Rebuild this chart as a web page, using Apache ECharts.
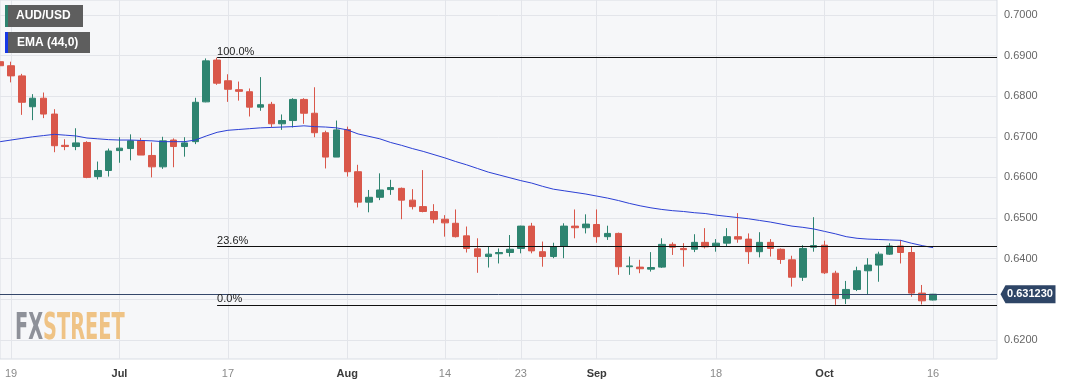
<!DOCTYPE html>
<html><head><meta charset="utf-8">
<script src="https://cdn.jsdelivr.net/npm/echarts@6/dist/echarts.min.js"></script>
<style>html,body{margin:0;padding:0;background:#fff}#c{width:1067px;height:386px}</style>
</head><body><div id="c"></div>
<script>
// Trading days (daily candles), 2023
const dates = ['06-16','06-19','06-20','06-21','06-22','06-23','06-26','06-27','06-28','06-29','06-30',
 '07-03','07-04','07-05','07-06','07-07','07-10','07-11','07-12','07-13','07-14','07-17','07-18','07-19','07-20','07-21',
 '07-24','07-25','07-26','07-27','07-28','07-31','08-01','08-02','08-03','08-04','08-07','08-08','08-09','08-10','08-11',
 '08-14','08-15','08-16','08-17','08-18','08-21','08-22','08-23','08-24','08-25','08-28','08-29','08-30','08-31',
 '09-01','09-04','09-05','09-06','09-07','09-08','09-11','09-12','09-13','09-14','09-15','09-18','09-19','09-20','09-21','09-22',
 '09-25','09-26','09-27','09-28','09-29','10-02','10-03','10-04','10-05','10-06','10-09','10-10','10-11','10-12','10-13','10-16'];
const opens = [0.6885,0.6875,0.6850,0.6774,0.6795,0.6756,0.6679,0.6676,0.6686,0.6602,0.6617,
 0.6666,0.6671,0.6690,0.6654,0.6626,0.6692,0.6676,0.6688,0.6786,0.6889,0.6838,0.6816,0.6811,0.6773,0.6780,
 0.6732,0.6740,0.6792,0.6758,0.6710,0.6650,0.6718,0.6614,0.6539,0.6551,0.6570,0.6573,0.6544,0.6528,0.6516,
 0.6497,0.6487,0.6456,0.6424,0.6405,0.6412,0.6415,0.6425,0.6480,0.6417,0.6405,0.6431,0.6480,0.6476,
 0.6484,0.6454,0.6462,0.6380,0.6379,0.6374,0.6379,0.6435,0.6425,0.6423,0.6440,0.6431,0.6438,0.6454,0.6448,0.6417,
 0.6440,0.6423,0.6397,0.6354,0.6428,0.6433,0.6364,0.6302,0.6324,0.6370,0.6384,0.6411,0.6431,0.6415,0.6315,0.6298];
const closes = [0.6875,0.6850,0.6785,0.6795,0.6756,0.6678,0.6676,0.6685,0.6600,0.6617,0.6665,
 0.6672,0.6690,0.6655,0.6626,0.6690,0.6676,0.6685,0.6785,0.6887,0.6832,0.6817,0.6812,0.6773,0.6779,0.6732,
 0.6740,0.6792,0.6758,0.6710,0.6650,0.6717,0.6614,0.6539,0.6551,0.6569,0.6575,0.6544,0.6528,0.6516,0.6497,
 0.6488,0.6454,0.6425,0.6405,0.6411,0.6415,0.6423,0.6480,0.6419,0.6405,0.6429,0.6480,0.6476,0.6485,
 0.6454,0.6462,0.6380,0.6382,0.6375,0.6378,0.6435,0.6428,0.6422,0.6440,0.6429,0.6438,0.6454,0.6448,0.6417,0.6440,
 0.6425,0.6398,0.6354,0.6425,0.6432,0.6365,0.6302,0.6324,0.6370,0.6384,0.6411,0.6431,0.6415,0.6315,0.6296,0.63123];
const lows = [0.6870,0.6834,0.6754,0.6741,0.6746,0.6662,0.6667,0.6667,0.6598,0.6595,0.6602,
 0.6636,0.6642,0.6655,0.6600,0.6621,0.6625,0.6651,0.6682,0.6785,0.6828,0.6786,0.6789,0.6750,0.6764,0.6723,
 0.6717,0.6723,0.6732,0.6699,0.6622,0.6650,0.6602,0.6526,0.6514,0.6544,0.6557,0.6497,0.6521,0.6514,0.6487,
 0.6454,0.6452,0.6415,0.6365,0.6378,0.6388,0.6405,0.6413,0.6413,0.6380,0.6401,0.6401,0.6450,0.6462,
 0.6439,0.6446,0.6360,0.6360,0.6364,0.6368,0.6377,0.6409,0.6380,0.6416,0.6425,0.6417,0.6429,0.6439,0.6387,0.6403,
 0.6405,0.6387,0.6331,0.6345,0.6417,0.6362,0.6286,0.6288,0.6320,0.6312,0.6343,0.6409,0.6388,0.6306,0.6287,0.6297];
const highs = [0.6893,0.6885,0.6855,0.6805,0.6809,0.6768,0.6694,0.6721,0.6689,0.6639,0.6671,
 0.6699,0.6706,0.6697,0.6686,0.6700,0.6696,0.6699,0.6796,0.6893,0.6895,0.6854,0.6836,0.6819,0.6847,0.6786,
 0.6755,0.6795,0.6795,0.6822,0.6715,0.6740,0.6725,0.6631,0.6569,0.6610,0.6594,0.6575,0.6571,0.6618,0.6534,
 0.6507,0.6521,0.6479,0.6450,0.6429,0.6425,0.6458,0.6481,0.6488,0.6442,0.6439,0.6487,0.6521,0.6509,
 0.6521,0.6481,0.6464,0.6405,0.6397,0.6416,0.6450,0.6440,0.6438,0.6460,0.6475,0.6448,0.6475,0.6512,0.6462,0.6465,
 0.6448,0.6425,0.6407,0.6433,0.6502,0.6444,0.6370,0.6345,0.6380,0.6401,0.6417,0.6438,0.6446,0.6429,0.6335,0.6313];
const ema44 = [0.6688,0.6692,0.6696,0.6700,0.6703,0.6706,0.6704,0.6702,0.6697,0.6695,0.6693,
 0.6692,0.6692,0.6691,0.6690,0.6688,0.6688,0.6688,0.6692,0.6702,0.6711,0.6716,0.6718,0.6720,0.6722,0.6723,
 0.6724,0.6725,0.6727,0.6725,0.6724,0.6722,0.6717,0.6707,0.6701,0.6695,0.6686,0.6679,0.6671,0.6664,0.6656,
 0.6648,0.6639,0.6631,0.6622,0.6613,0.6606,0.6599,0.6592,0.6586,0.6578,0.6571,0.6567,0.6563,0.6559,
 0.6554,0.6549,0.6543,0.6536,0.6530,0.6525,0.6521,0.6518,0.6516,0.6513,0.6511,0.6507,0.6504,0.6501,0.6498,0.6494,
 0.6490,0.6485,0.6480,0.6477,0.6473,0.6467,0.6461,0.6454,0.6450,0.6448,0.6447,0.6446,0.6445,0.6438,0.6432,0.6427];
const tickIndex = [1, 11, 21, 32, 41, 48, 55, 66, 76, 86];
const tickText  = ['19','Jul','17','Aug','14','23','Sep','18','Oct','16'];
const monthTicks = ['Jul','Aug','Sep','Oct'];
const priceTicks = [0.62,0.63,0.64,0.65,0.66,0.67,0.68,0.69,0.70];
const fibLevels = [{label:'100.0%', value:0.6895},{label:'23.6%', value:0.6431},{label:'0.0%', value:0.6286}];
const fibStartIndex = 20;
const lastPrice = 0.63123;
const lastPriceText = '0.631230';

const X_MIN = -0.014, X_MAX = 91.9;
const Y_MIN = 0.61527, Y_MAX = 0.70369;
const UP = '#2e8470', DOWN = '#d9574a';
const FONT = 'Liberation Sans, Arial, sans-serif';

const candleData = dates.map((d,i)=>[i, opens[i], closes[i], lows[i], highs[i]]);
const emaData = ema44.map((v,i)=>[i, v]);

const chart = echarts.init(document.getElementById('c'), null, {renderer:'canvas'});
chart.setOption({
  animation:false,
  backgroundColor:'#ffffff',
  grid:{left:0, right:70, top:0, bottom:27, show:true, backgroundColor:'#f6f7f9', borderColor:'#d9dde4', borderWidth:1},
  xAxis:{type:'value', min:X_MIN, max:X_MAX,
    axisLine:{show:false},
    axisTick:{show:false, customValues:tickIndex},
    axisLabel:{customValues:tickIndex, margin:9, fontFamily:FONT, fontSize:11,
      formatter:(v)=>{const t=tickText[tickIndex.indexOf(Math.round(v))]||''; return monthTicks.includes(t)?'{m|'+t+'}':'{d|'+t+'}';},
      rich:{m:{color:'#3a3a3a', fontWeight:'bold', fontSize:11, fontFamily:FONT}, d:{color:'#8a8a8a', fontSize:11, fontFamily:FONT}}},
    splitLine:{show:true, lineStyle:{color:'#e3e5ea', width:1}}},
  yAxis:{type:'value', position:'right', min:Y_MIN, max:Y_MAX, scale:true,
    axisLine:{show:false}, axisTick:{show:false, customValues:priceTicks},
    axisLabel:{customValues:priceTicks, margin:7, color:'#666', fontSize:11, fontFamily:FONT,
      formatter:(v)=>v.toFixed(4)},
    splitLine:{show:true, lineStyle:{color:'#e3e5ea', width:1}}},
  series:[
    {type:'candlestick', data:candleData, encode:{x:0, y:[1,2,3,4]}, barWidth:7, clip:true,
      itemStyle:{color:UP, color0:DOWN, borderColor:UP, borderColor0:DOWN, borderWidth:1},
      markLine:{silent:true, symbol:['none','none'], animation:false, precision:6,
        data:[
          ...fibLevels.map(f=>[
            {coord:[fibStartIndex, f.value], lineStyle:{color:'#111', width:1, type:'solid'},
             label:{show:true, formatter:f.label, position:'insideStartTop', distance:0, color:'#222', fontSize:11, fontFamily:FONT}},
            {coord:[X_MAX, f.value]}]),
          {yAxis:lastPrice, lineStyle:{color:'#34476a', width:1, type:'solid'}, label:{show:false}}
        ]},
      markPoint:{silent:true, animation:false,
        data:[{coord:[X_MAX, lastPrice], symbol:'path://M0,9L5,0L55,0L55,18L5,18Z', symbolSize:[55,18], symbolKeepAspect:false,
          symbolOffset:[31,0], itemStyle:{color:'#2e4566'},
          label:{show:true, position:'inside', formatter:lastPriceText, color:'#fff', fontWeight:'bold', fontSize:11, offset:[2,0], fontFamily:FONT}}]}
    },
    {type:'line', data:emaData, showSymbol:false, symbol:'none', lineStyle:{color:'#2b3fd4', width:1}, clip:true, z:3}
  ],
  graphic:[
    {type:'rect', left:5, top:5, shape:{width:78, height:22}, style:{fill:'#5e5e5e'}, z:10},
    {type:'rect', left:5, top:5, shape:{width:3, height:22}, style:{fill:UP}, z:11},
    {type:'text', left:16, top:10, style:{text:'AUD/USD', fill:'#fff', font:'bold 12px '+FONT}, z:11},
    {type:'rect', left:5, top:32, shape:{width:85, height:21}, style:{fill:'#5e5e5e'}, z:10},
    {type:'rect', left:5, top:32, shape:{width:3, height:21}, style:{fill:'#1638e6'}, z:11},
    {type:'text', left:17, top:37, style:{text:'EMA (44,0)', fill:'#fff', font:'bold 12px '+FONT}, z:11},
    {type:'text', x:15, y:311, scaleX:0.58, style:{text:'{a|FX}{b|STREET}', font:'bold 37px Liberation Sans Narrow, DejaVu Sans Condensed, Arial, sans-serif',
      rich:{a:{fill:'#8e9199', font:'bold 37px Liberation Sans Narrow, DejaVu Sans Condensed, Arial, sans-serif'}, b:{fill:'#efc385', font:'bold 37px Liberation Sans Narrow, DejaVu Sans Condensed, Arial, sans-serif'}}}, z:1}
  ]
});
</script></body></html>
